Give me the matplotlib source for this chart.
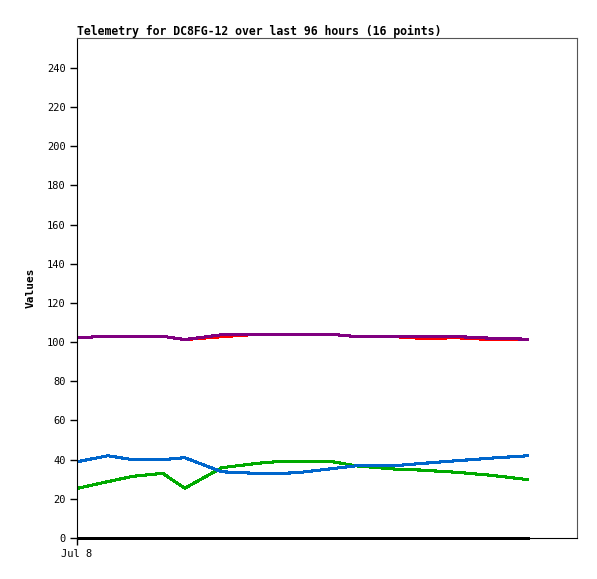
import matplotlib
matplotlib.use("Agg")
import matplotlib.pyplot as plt

# hours since Jul 8 00:00
hours = [0, 6.4, 11.7, 18.1, 22.8, 30.7, 38.2, 42.5, 46.7, 54.2, 59.5, 67.6, 73.0, 81.1, 88.3, 96.0]

green = [25.4, 28.8, 31.5, 33.0, 25.4, 35.9, 38.1, 39.0, 39.0, 39.0, 36.8, 35.2, 34.7, 33.5, 32.0, 29.8]
blue = [39.0, 42.0, 40.0, 40.0, 41.0, 33.8, 33.0, 33.0, 33.3, 35.4, 36.9, 36.9, 38.0, 39.5, 40.8, 42.0]
red = [102.3, 103.0, 103.0, 103.0, 101.3, 102.8, 104.0, 104.0, 104.0, 104.0, 102.8, 102.8, 102.0, 102.2, 101.3, 101.3]
purple = [102.3, 103.0, 103.0, 103.0, 101.3, 103.8, 104.0, 104.0, 104.0, 104.0, 102.8, 102.8, 102.8, 102.8, 102.0, 101.5]
black = [0] * 16

yticks = list(range(0, 241, 20))
title = "Telemetry for DC8FG-12 over last 96 hours (16 points)"

plt.rcParams['font.family'] = ['DejaVu Sans Mono']

fig = plt.figure(figsize=(5.97, 5.79), dpi=100)
ax = fig.add_axes([77 / 597, 41 / 579, 500 / 597, 500 / 579])

lw = 1.5
ax.plot(hours, green, color='#00aa00', lw=lw, antialiased=False)
ax.plot(hours, blue, color='#0066cc', lw=lw, antialiased=False)
ax.plot(hours, red, color='#ff0000', lw=lw, antialiased=False)
ax.plot(hours, purple, color='#800080', lw=lw, antialiased=False)
ax.plot(hours, black, color='black', lw=1.0, antialiased=False, clip_on=False)

ax.set_xlim(-0.2, 106.5)
ax.set_ylim(0, 255.3)
ax.set_yticks(yticks)
ax.set_yticklabels([str(v) for v in yticks], fontsize=7.5)
ax.set_xticks([-0.2])
ax.set_xticklabels(["Jul 8"], fontsize=7.5)
ax.tick_params(axis='both', direction='out', length=5, width=1, color='black', pad=3)

ax.spines['left'].set_color('black')
ax.spines['bottom'].set_color('black')
ax.spines['top'].set_color('#555555')
ax.spines['right'].set_color('#555555')

ax.set_ylabel("Values", fontsize=8, fontweight='bold', labelpad=8)
ax.set_title(title, loc='left', fontsize=8.3, fontweight='bold', pad=2)

fig.savefig("out.png", dpi=100)
